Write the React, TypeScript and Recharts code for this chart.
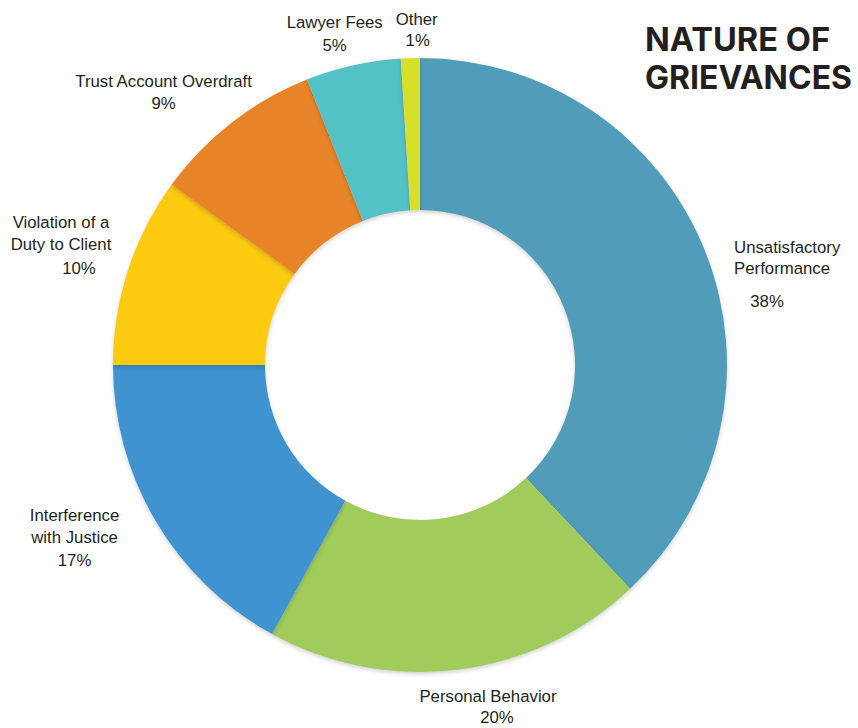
import React from "react";
import { PieChart, Pie, Cell } from "recharts";

const categories = [
  "Unsatisfactory Performance",
  "Personal Behavior",
  "Interference with Justice",
  "Violation of a Duty to Client",
  "Trust Account Overdraft",
  "Lawyer Fees",
  "Other",
];
const values = [38, 20, 17, 10, 9, 5, 1];
const labelLines = [
  ["Unsatisfactory", "Performance"],
  ["Personal Behavior"],
  ["Interference", "with Justice"],
  ["Violation of a", "Duty to Client"],
  ["Trust Account Overdraft"],
  ["Lawyer Fees"],
  ["Other"],
];
const colors = ["#519DB9", "#A1CC5B", "#3F93D0", "#FCCB10", "#E78428", "#52C2C7", "#D7E029"];
const titleLines = ["NATURE OF", "GRIEVANCES"];

// label layout (offsets from a radial anchor just outside each slice)
const labelLayout = [
  { nx: 10, ny: 8, anchor: "start", lh: 21, px: 43, py: 62 },
  { nx: 27, ny: 12.6, anchor: "middle", lh: 21, px: 36, py: 33.6 },
  { nx: -64, ny: -10.4, anchor: "middle", lh: 22, px: -64, py: 34.6 },
  { nx: -48, ny: -36, anchor: "middle", lh: 22, px: -30, py: 10 },
  { nx: -56, ny: -19.6, anchor: "middle", lh: 22, px: -56, py: 2.4 },
  { nx: -14, ny: -18, anchor: "middle", lh: 22, px: -14, py: 5 },
  { nx: 7, ny: -13, anchor: "middle", lh: 22, px: 8, py: 8 },
];

const data = categories.map((name, i) => ({ name, value: values[i] }));
const RAD = Math.PI / 180;
const FONT = "'Liberation Sans', Arial, sans-serif";

const renderLabel = (props: any) => {
  const { cx, cy, midAngle, outerRadius, index, value } = props;
  const r = outerRadius + 20;
  const ax = cx + r * Math.cos(-midAngle * RAD);
  const ay = cy + r * Math.sin(-midAngle * RAD);
  const L = labelLayout[index];
  return (
    <g key={`lbl-${index}`}>
      {labelLines[index].map((t, j) => (
        <text
          key={j}
          x={ax + L.nx}
          y={ay + L.ny + j * L.lh}
          textAnchor={L.anchor as any}
          fill="#231F20"
          fontSize={16.8}
          fontFamily={FONT}
        >
          {t}
        </text>
      ))}
      <text
        x={ax + L.px}
        y={ay + L.py}
        textAnchor="middle"
        fill="#231F20"
        fontSize={16.8}
        fontFamily={FONT}
      >
        {`${value}%`}
      </text>
    </g>
  );
};

export default function App() {
  return (
    <div style={{ position: "absolute", left: 0, top: 0, width: 858, height: 728, background: "#fff" }}>
      <style>{`.recharts-pie-sector path { filter: drop-shadow(0px 2px 2px rgba(0,0,0,0.18)); }`}</style>
      <PieChart width={858} height={728} margin={{ top: 0, right: 0, bottom: 0, left: 0 }}>
        <Pie
          data={data}
          dataKey="value"
          nameKey="name"
          cx={420}
          cy={365}
          innerRadius={155}
          outerRadius={307}
          startAngle={90}
          endAngle={-270}
          stroke="none"
          label={renderLabel}
          labelLine={false}
          isAnimationActive={false}
        >
          {data.map((d, i) => (
            <Cell key={d.name} fill={colors[i]} />
          ))}
        </Pie>
      </PieChart>
      <svg
        width={858}
        height={728}
        style={{ position: "absolute", left: 0, top: 0, pointerEvents: "none" }}
      >
        {titleLines.map((t, i) => (
          <text
            key={t}
            x={645}
            y={51 + i * 38}
            fill="#231F20"
            fontSize={32}
            fontWeight={700}
            fontFamily="Inter, 'Noto Sans', sans-serif"
            textLength={i === 0 ? 185 : 207}
            lengthAdjust="spacingAndGlyphs"
          >
            {t}
          </text>
        ))}
      </svg>
    </div>
  );
}
